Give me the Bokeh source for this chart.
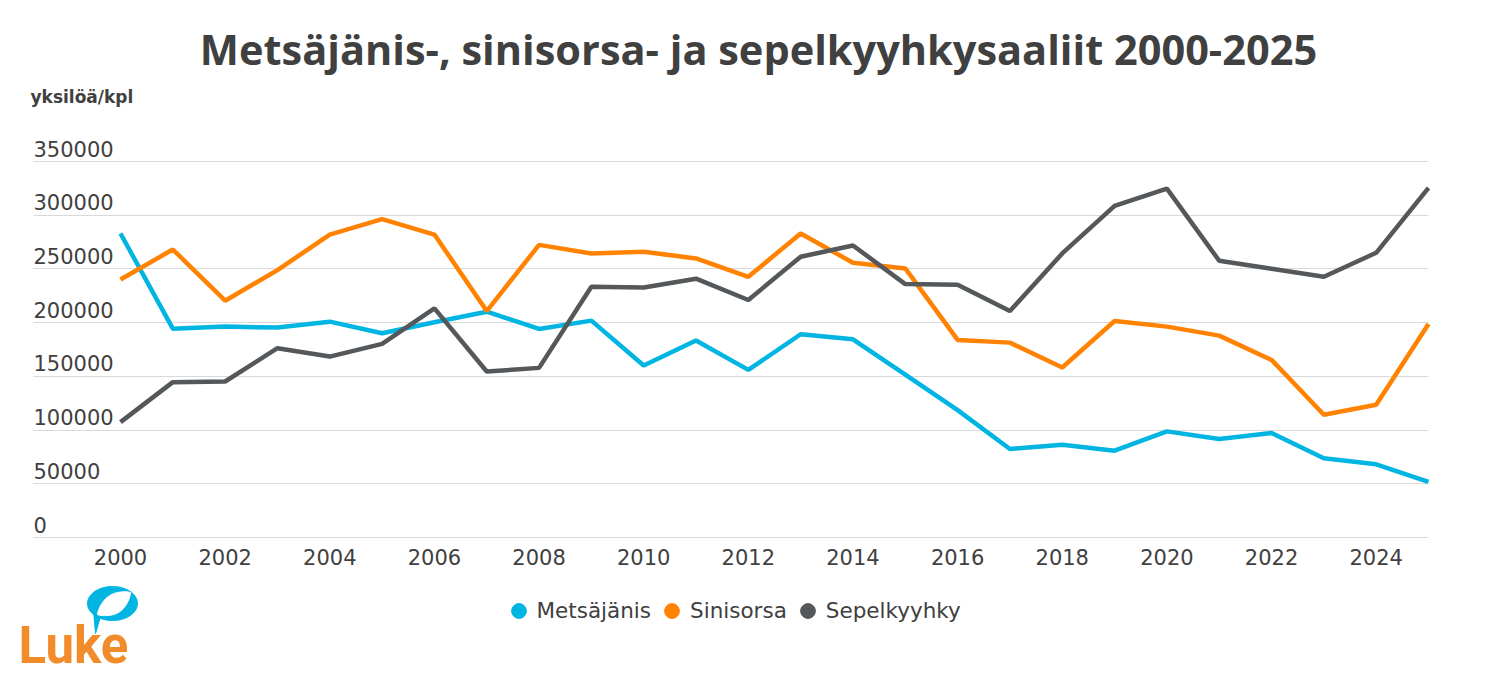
import numpy as np
from bokeh.plotting import figure
from bokeh.layouts import column
from bokeh.models import FixedTicker, Range1d, Legend, LegendItem, Label, ColumnDataSource
from bokeh.core.properties import value
from bokeh.embed import file_html
from bokeh.resources import INLINE

# Saaliit vuosittain (yksilöä)
years = list(range(2000, 2026))
metsajanis = [283000, 194400, 196300, 195400, 200900, 190100, 200300, 210200, 194100,
              201900, 160100, 183300, 156000, 189200, 184500, 151700, 118600, 82400,
              86400, 80800, 98800, 91600, 97200, 73700, 68100, 51700]
sinisorsa = [240200, 268100, 220400, 248900, 282000, 296300, 282000, 210800, 272400,
             264400, 265900, 259800, 242700, 283000, 255700, 250500, 183900, 181400,
             158200, 201500, 196300, 187900, 165300, 114200, 123500, 198800]
sepelkyyhky = [107400, 144600, 145200, 176200, 168400, 180200, 213300, 154500, 157900,
               233400, 232800, 240900, 221100, 261300, 271800, 235900, 235300, 210800,
               264400, 308700, 324800, 257600, 250200, 242700, 265000, 325400]

series_names = ["Metsäjänis", "Sinisorsa", "Sepelkyyhky"]
series_colors = ["#00B5E2", "#FF8200", "#54585A"]

y_ticks = [0, 50000, 100000, 150000, 200000, 250000, 300000, 350000]
y_tick_labels = ["0", "50000", "100000", "150000", "200000", "250000", "300000", "350000"]
x_ticks = list(range(2000, 2025, 2))

TEXT = "#404040"
PX = 350000 / 376      # yksilöä per pikseli
YR = 52.32             # pikseliä per vuosi
X0 = 1998.337          # vaakaviivojen ja y-arvojen vasen reuna

# --- Pääkuvaaja: kehys kattaa koko leveyden ja yläosan ---
p = figure(width=1500, height=580, output_backend="svg", toolbar_location=None,
           title=None, y_axis_location=None,
           x_range=Range1d(2000 - 120 / YR, 2000 + 1380 / YR),
           y_range=Range1d(-3 * PX, 537 * PX),
           min_border_left=0, min_border_right=0, min_border_top=0,
           min_border_bottom=40)
p.outline_line_color = None

p.xgrid.visible = False
p.ygrid.ticker = FixedTicker(ticks=y_ticks)
p.ygrid.cross_bounds = (X0, 2025)
p.ygrid.grid_line_color = "#D9D9D9"
p.ygrid.grid_line_width = 1

xa = p.xaxis[0]
xa.ticker = FixedTicker(ticks=x_ticks)
xa.axis_line_color = None
xa.major_tick_line_color = None
xa.minor_tick_line_color = None
xa.major_label_standoff = 2
xa.major_label_text_font = "DejaVu Sans"
xa.major_label_text_font_size = "21px"
xa.major_label_text_color = TEXT

# y-akselin arvot vaakaviivojen yläpuolelle
ylab = ColumnDataSource(dict(x=[X0] * len(y_ticks), y=y_ticks, t=y_tick_labels))
p.text(x="x", y="y", text="t", source=ylab, text_font=value("DejaVu Sans"),
       text_font_size="21px", text_color=TEXT, text_align="left",
       text_baseline="middle", y_offset=-13)

for name, vals, col in zip(series_names, [metsajanis, sinisorsa, sepelkyyhky], series_colors):
    p.line(years, vals, line_width=4.5, line_color=col)

# Otsikko ja yksikkö
p.add_layout(Label(x=758, y=540 - 48, x_units="screen", y_units="screen",
                   text="Metsäjänis-, sinisorsa- ja sepelkyyhkysaaliit 2000-2025",
                   text_font="Open Sans", text_font_style="bold", text_font_size="41.5px",
                   text_color=TEXT, text_align="center", text_baseline="middle"))
p.add_layout(Label(x=30, y=540 - 96, x_units="screen", y_units="screen", text="yksilöä/kpl",
                   text_font="DejaVu Sans", text_font_style="bold", text_font_size="17px",
                   text_color=TEXT, text_align="left", text_baseline="middle"))

# --- Alaosa: selite ja Luke-logo ---
q = figure(width=1500, height=94, output_backend="svg", toolbar_location=None,
           title=None, x_axis_location=None, y_axis_location=None,
           x_range=Range1d(0, 1500), y_range=Range1d(674, 580),
           min_border=0, min_border_left=0, min_border_right=0,
           min_border_top=0, min_border_bottom=0)
q.grid.visible = False
q.outline_line_color = None

items = []
for name, col in zip(series_names, series_colors):
    # piste näkyvän alueen ulkopuolella; vain selitteen merkkiä varten
    marker = q.scatter(x=[-1000], y=[-1000], marker="circle", size=15,
                       fill_color=col, line_color=col)
    items.append(LegendItem(label=name, renderers=[marker]))

legend = Legend(items=items, orientation="horizontal", location=(499.5, 45.5),
                glyph_width=37, glyph_height=37, label_standoff=0, spacing=2,
                padding=0, margin=0, border_line_color=None, background_fill_alpha=0,
                label_text_font="DejaVu Sans", label_text_font_size="21.5px",
                label_text_color=TEXT)
q.add_layout(legend, "center")

LUKE_BLUE = "#00B5E2"
LUKE_ORANGE = "#F28B2A"

# puhekupla ja häntä
ang = np.linspace(0, 2 * np.pi, 60, endpoint=False)
ex = 112 + 25 * np.cos(ang)
ey = 603 - 17 * np.sin(ang)
k = int(np.argmin(np.abs(ang - 1.25 * np.pi)))
bx = np.concatenate([ex[:k], [95], ex[k + 2:]])
by = np.concatenate([ey[:k], [633], ey[k + 2:]])
q.patch(bx, by, fill_color=LUKE_BLUE, line_color=LUKE_BLUE, line_width=1)

# lehti kuplan sisällä
t = np.linspace(0, 1, 30)
ax_, ay_ = 97.0, 614.0
bx_, by_ = 130.0, 592.0
dx, dy = bx_ - ax_, by_ - ay_
L = np.hypot(dx, dy)
nx, ny = -dy / L, dx / L
w = 10 * np.sin(np.pi * t) ** 0.8
lx = np.concatenate([ax_ + t * dx + nx * w, (ax_ + t * dx - nx * w * 0.9)[::-1]])
ly = np.concatenate([ay_ + t * dy + ny * w, (ay_ + t * dy - ny * w * 0.9)[::-1]])
q.patch(lx, ly, fill_color="white", line_color="white", line_width=1)

q.text(x=[18], y=[645], text=["Luke"], text_font=value("Roboto"),
       text_font_style="bold", text_font_size="51px", text_color=LUKE_ORANGE,
       text_align="left", text_baseline="middle")

layout = column(p, q, spacing=0)
open("out.html", "w").write(file_html(layout, INLINE))
